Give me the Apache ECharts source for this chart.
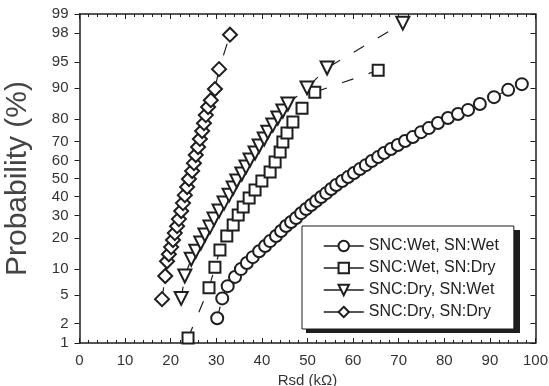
<!DOCTYPE html>
<html><head><meta charset="utf-8">
<script src="https://cdn.jsdelivr.net/npm/echarts@6/dist/echarts.min.js"></script>
<style>html,body{margin:0;padding:0;background:#fff}#c{width:549px;height:386px}</style>
</head><body><div id="c"></div>
<script>
// ---- data (Rsd in kOhm, cumulative probability in %) ----
const probTicks = [1, 2, 5, 10, 20, 30, 40, 50, 60, 70, 80, 90, 95, 98, 99];

const wetWetRsd  = [30.2, 31.3, 32.5, 34.1, 35.4, 36.7, 38.0, 39.4, 40.7, 41.8, 43.1, 44.2, 45.3, 46.4, 47.5, 48.6, 49.7, 50.8, 51.9, 53.0, 54.1, 55.2, 56.3, 57.6, 58.9, 60.2, 61.5, 62.8, 64.1, 65.5, 66.8, 68.3, 69.8, 71.4, 73.1, 74.9, 76.6, 78.6, 80.8, 83.0, 85.2, 87.8, 90.9, 94.0, 97.0];
const wetWetProb = [2.4, 4.5, 6.4, 8.2, 10.0, 11.6, 13.3, 15.2, 17.0, 18.8, 20.8, 22.9, 25.1, 26.9, 28.8, 31.2, 33.3, 35.4, 37.5, 39.7, 41.8, 44.1, 46.3, 48.6, 50.8, 53.1, 55.3, 57.5, 59.8, 61.9, 64.1, 66.2, 68.2, 70.2, 72.1, 74.4, 76.2, 78.4, 80.4, 81.9, 83.4, 85.4, 87.5, 89.5, 90.9];

const wetDryRsd  = [23.8, 28.4, 29.7, 30.8, 32.3, 33.7, 34.8, 35.9, 37.2, 38.5, 40.0, 41.8, 42.9, 44.0, 44.6, 45.5, 46.8, 48.8, 51.6, 65.5];
const wetDryProb = [1.2, 6.1, 10.5, 15.6, 20.8, 25.5, 30.3, 34.3, 39.1, 43.5, 48.6, 53.6, 59.2, 64.6, 69.7, 74.0, 78.8, 84.0, 88.9, 93.7];

const dryWetRsd  = [22.3, 23.1, 24.5, 25.5, 26.6, 27.5, 28.6, 29.5, 30.6, 31.7, 32.8, 33.7, 34.5, 35.6, 36.5, 37.4, 38.5, 39.4, 40.5, 41.3, 42.4, 43.5, 44.6, 45.7, 49.9, 54.3, 70.9];
const dryWetProb = [4.5, 8.4, 12.7, 15.2, 18.1, 21.2, 24.6, 28.3, 32.3, 36.4, 40.7, 44.6, 48.6, 52.5, 56.4, 60.3, 64.1, 67.7, 71.2, 74.4, 77.5, 80.4, 83.0, 85.4, 90.0, 94.1, 98.6];

const dryDryRsd  = [18.1, 18.8, 19.2, 19.6, 20.1, 20.5, 20.9, 21.4, 21.8, 22.3, 22.7, 23.1, 23.6, 24.0, 24.7, 25.1, 25.5, 26.0, 26.4, 26.9, 27.3, 27.7, 28.2, 28.8, 29.7, 30.6, 33.0];
const dryDryProb = [4.4, 8.4, 12.1, 14.2, 16.6, 19.2, 22.0, 25.0, 28.3, 32.3, 36.4, 40.7, 45.2, 49.7, 54.2, 58.6, 63.0, 67.2, 71.2, 74.9, 78.3, 81.5, 84.4, 86.6, 89.7, 93.9, 97.9];

const seriesNames = ['SNC:Wet, SN:Wet', 'SNC:Wet, SN:Dry', 'SNC:Dry, SN:Wet', 'SNC:Dry, SN:Dry'];

// ---- inverse normal CDF (probability-paper scale) ----
function probit(p) {
  const a = [-3.969683028665376e+01, 2.209460984245205e+02, -2.759285104469687e+02, 1.383577518672690e+02, -3.066479806614716e+01, 2.506628277459239e+00];
  const b = [-5.447609879822406e+01, 1.615858368580409e+02, -1.556989798598866e+02, 6.680131188771972e+01, -1.328068155288572e+01];
  const c = [-7.784894002430293e-03, -3.223964580411365e-01, -2.400758277161838e+00, -2.549732539343734e+00, 4.374664141464968e+00, 2.938163982698783e+00];
  const d = [7.784695709041462e-03, 3.224671290700398e-01, 2.445134137142996e+00, 3.754408661907416e+00];
  const pl = 0.02425, ph = 1 - pl;
  let q, r;
  if (p < pl) { q = Math.sqrt(-2 * Math.log(p)); return (((((c[0]*q+c[1])*q+c[2])*q+c[3])*q+c[4])*q+c[5]) / ((((d[0]*q+d[1])*q+d[2])*q+d[3])*q+1); }
  if (p <= ph) { q = p - 0.5; r = q*q; return (((((a[0]*r+a[1])*r+a[2])*r+a[3])*r+a[4])*r+a[5])*q / (((((b[0]*r+b[1])*r+b[2])*r+b[3])*r+b[4])*r+1); }
  q = Math.sqrt(-2 * Math.log(1 - p)); return -(((((c[0]*q+c[1])*q+c[2])*q+c[3])*q+c[4])*q+c[5]) / ((((d[0]*q+d[1])*q+d[2])*q+d[3])*q+1);
}
const toZ = pct => probit(pct / 100);
const tickZ = probTicks.map(toZ);
const zMin = toZ(probTicks[0]), zMax = toZ(probTicks[probTicks.length - 1]);
function zLabel(v) {
  let best = 0;
  for (let i = 1; i < tickZ.length; i++) if (Math.abs(tickZ[i] - v) < Math.abs(tickZ[best] - v)) best = i;
  return String(probTicks[best]);
}
const pairs = (xs, ps) => xs.map((x, i) => [x, toZ(ps[i])]);

const FONT = 'Liberation Sans, Arial, sans-serif';
const INK = '#1e1e1e';
const markerBase = { color: '#fff', borderColor: INK, borderWidth: 2 };
function mk(name, xs, ps, symbol, size, rot) {
  return {
    name, type: 'line', data: pairs(xs, ps),
    symbol, symbolSize: size, symbolRotate: rot || 0, showAllSymbol: true,
    itemStyle: markerBase,
    lineStyle: { color: INK, width: 1.2, type: [12, 16] },
    emphasis: { disabled: true }, animation: false
  };
}

const chart = echarts.init(document.getElementById('c'), null, { renderer: 'canvas' });
const xCommon = {
  type: 'value', min: 0, max: 100, interval: 10,
  axisLine: { show: true, onZero: false, lineStyle: { color: INK, width: 1.5 } },
  axisTick: { show: true, inside: true, length: 5, lineStyle: { color: INK, width: 1 } },
  minorTick: { show: true, splitNumber: 5, length: 3, lineStyle: { color: INK, width: 1 } },
  splitLine: { show: false }
};
const yCommon = {
  type: 'value', min: zMin, max: zMax,
  axisLine: { show: true, onZero: false, lineStyle: { color: INK, width: 1.5 } },
  splitLine: { show: false }
};
chart.setOption({
  backgroundColor: '#fff',
  animation: false,
  grid: { left: 79.5, right: 13.5, top: 14, bottom: 43, outerBoundsMode: 'none', containLabel: false },
  graphic: {
    elements: [{
      type: 'rect', left: 306, top: 230, z: 3, silent: true,
      shape: { width: 214, height: 103 },
      style: { fill: INK }
    }]
  },
  xAxis: [
    Object.assign({}, xCommon, {
      position: 'bottom', name: 'Rsd (kΩ)', nameLocation: 'middle', nameGap: 26,
      nameTextStyle: { fontFamily: FONT, fontSize: 15, color: '#333' },
      axisLabel: { fontFamily: FONT, fontSize: 15, color: '#333', margin: 10 }
    }),
    Object.assign({}, xCommon, { position: 'top', axisLabel: { show: false } })
  ],
  yAxis: [
    Object.assign({}, yCommon, {
      position: 'left', name: 'Probability (%)', nameLocation: 'middle', nameGap: 47,
      nameTextStyle: { fontFamily: FONT, fontSize: 30, color: '#444' },
      axisTick: { show: true, inside: false, length: 5, customValues: tickZ, lineStyle: { color: INK, width: 1 } },
      axisLabel: { show: true, customValues: tickZ, formatter: zLabel, fontFamily: FONT, fontSize: 15, color: '#333', margin: 11 }
    }),
    Object.assign({}, yCommon, {
      position: 'right',
      axisTick: { show: true, inside: true, length: 5, customValues: tickZ, lineStyle: { color: INK, width: 1 } },
      axisLabel: { show: false }
    })
  ],
  legend: {
    orient: 'vertical', left: 302, top: 226, z: 5,
    data: seriesNames,
    itemWidth: 40, itemHeight: 13, itemGap: 6,
    padding: [12, 15, 9, 21],
    backgroundColor: '#fff', borderColor: INK, borderWidth: 1,
    lineStyle: { type: 'solid', width: 1.5, color: INK },
    textStyle: { fontFamily: FONT, fontSize: 16, color: '#222' },
    selectedMode: false
  },
  series: [
    mk(seriesNames[0], wetWetRsd, wetWetProb, 'circle', 12),
    mk(seriesNames[1], wetDryRsd, wetDryProb, 'rect', 11),
    mk(seriesNames[2], dryWetRsd, dryWetProb, 'triangle', 13, 180),
    mk(seriesNames[3], dryDryRsd, dryDryProb, 'diamond', 14)
  ]
});
</script></body></html>
